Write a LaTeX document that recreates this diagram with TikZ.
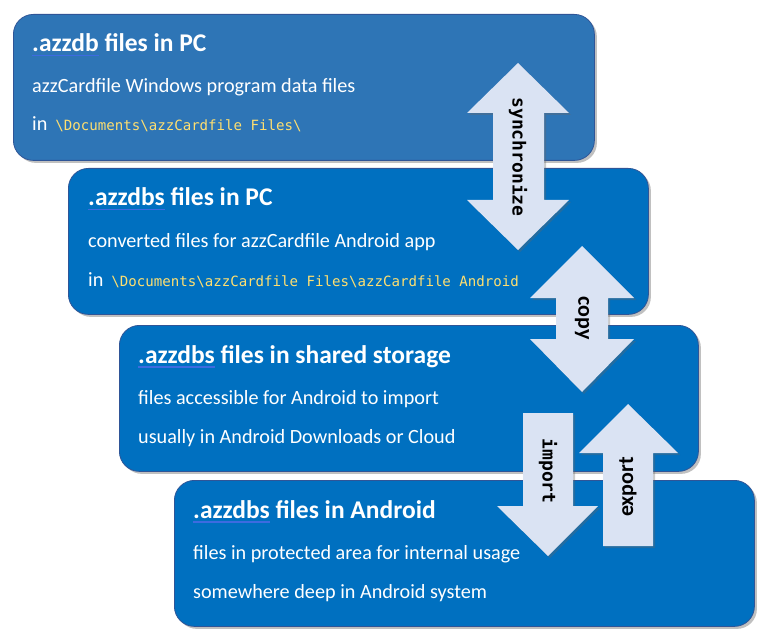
\documentclass[tikz,border=0pt]{standalone}
\usepackage{fontspec}
\setmainfont{Carlito}
\setmonofont{DejaVu Sans Mono}
\usetikzlibrary{shadows}
\definecolor{boxA}{HTML}{2E75B6}
\definecolor{boxB}{HTML}{0070C0}
\definecolor{boxline}{HTML}{2F5597}
\definecolor{arrowfill}{HTML}{DAE3F3}
\definecolor{pathyellow}{HTML}{FFDF70}
\definecolor{ulblue}{HTML}{3D6BE0}
\newcommand\ulword[1]{\setbox0\hbox{#1}\rlap{\color{ulblue}\rule[-4.5pt]{\wd0}{1.2pt}}\box0\relax}
\newcommand\pathtext[1]{\hspace*{8pt}{\color{pathyellow}\fontsize{14.1}{16}\selectfont\ttfamily #1}}
\tikzset{
  panel/.style={draw=boxline, line width=0.8pt, rounded corners=20pt,
    minimum width=580pt, minimum height=146pt, anchor=north west, inner sep=0pt,
    drop shadow={shadow xshift=2.5pt, shadow yshift=-2.5pt, opacity=0.45, fill=black!55}},
  titletext/.style={anchor=base west, inner sep=0pt, text=white,
    font=\fontsize{25.5}{28}\selectfont\bfseries},
  bodytext/.style={anchor=base west, inner sep=0pt, text=white,
    font=\fontsize{20.2}{23}\selectfont},
  blockarrow/.style={fill=arrowfill,
    drop shadow={shadow xshift=2pt, shadow yshift=-2pt, opacity=0.35, fill=black!60}},
  monolabel/.style={inner sep=0pt, text=black, font=\fontsize{18}{20}\selectfont\ttfamily\bfseries},
  sanslabel/.style={inner sep=0pt, text=black, font=\fontsize{22}{24}\selectfont\bfseries}
}
\begin{document}
\begin{tikzpicture}[x=1pt,y=-1pt]
\useasboundingbox (0,0) rectangle (768,639);
% panels
\node[panel, fill=boxA, minimum width=581pt] (pc) at (13,14) {};
\node[panel, fill=boxB] (pcs) at (68,168) {};
\node[panel, fill=boxB, minimum width=579pt] (shared) at (119,325) {};
\node[panel, fill=boxB] (android) at (174,480) {};
% panel texts
\node[titletext] (pcT) at ([xshift=19pt,yshift=-38pt]pc.north west) {\ulword{.azzdb} files in PC};
\node[bodytext] (pcA) at ([xshift=19pt,yshift=-79pt]pc.north west) {azzCardfile Windows program data files};
\node[bodytext] (pcB) at ([xshift=19pt,yshift=-117pt]pc.north west) {in\pathtext{\textbackslash Documents\textbackslash azzCardfile Files\textbackslash}};
\node[titletext] (pcsT) at ([xshift=20pt,yshift=-38pt]pcs.north west) {\ulword{.azzdbs} files in PC};
\node[bodytext] (pcsA) at ([xshift=20pt,yshift=-79pt]pcs.north west) {converted files for azzCardfile Android app};
\node[bodytext] (pcsB) at ([xshift=20pt,yshift=-118pt]pcs.north west) {in\pathtext{\textbackslash Documents\textbackslash azzCardfile Files\textbackslash azzCardfile Android}};
\node[titletext] (sharedT) at ([xshift=19pt,yshift=-38pt]shared.north west) {\ulword{.azzdbs} files in shared storage};
\node[bodytext] (sharedA) at ([xshift=19pt,yshift=-79pt]shared.north west) {files accessible for Android to import};
\node[bodytext] (sharedB) at ([xshift=19pt,yshift=-118pt]shared.north west) {usually in Android Downloads or Cloud};
\node[titletext] (androidT) at ([xshift=19pt,yshift=-38pt]android.north west) {\ulword{.azzdbs} files in Android};
\node[bodytext] (androidA) at ([xshift=19pt,yshift=-79pt]android.north west) {files in protected area for internal usage};
\node[bodytext] (androidB) at ([xshift=19pt,yshift=-118pt]android.north west) {somewhere deep in Android system};
% synchronize double arrow
\fill[blockarrow] (518,63) -- (569,113) -- (544,113) -- (544,200) -- (569,200) -- (518,250)
  -- (467,200) -- (493,200) -- (493,113) -- (467,113) -- cycle;
\node[monolabel, rotate=-90] (sync) at (518,157) {synchronize};
% copy double arrow
\fill[blockarrow] (582,246) -- (634,298) -- (608,298) -- (608,339) -- (634,339) -- (582,392)
  -- (530,339) -- (556,339) -- (556,298) -- (530,298) -- cycle;
\node[sanslabel, rotate=-90] (copy) at (582,318) {copy};
% import arrow (down)
\fill[blockarrow] (523,413) -- (573,413) -- (573,506) -- (598,506) -- (548,556) -- (497,506)
  -- (523,506) -- cycle;
\node[monolabel, rotate=-90] (import) at (548,471) {import};
% export arrow (up)
\fill[blockarrow] (628,404) -- (678,453) -- (653,453) -- (653,546) -- (603,546) -- (603,453)
  -- (579,453) -- cycle;
\node[sanslabel, rotate=90] (export) at (628,487) {export};
\end{tikzpicture}
\end{document}
